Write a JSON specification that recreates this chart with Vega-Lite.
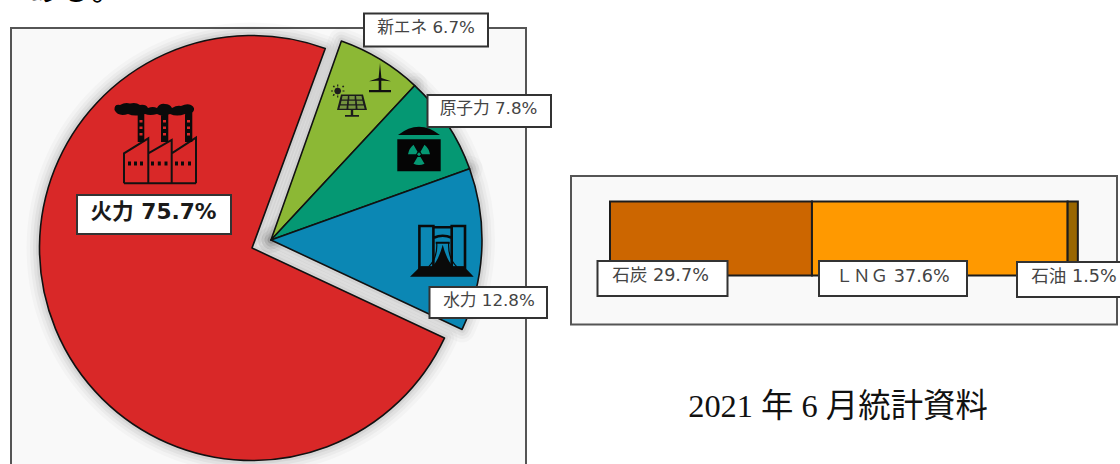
{
"$schema":"https://vega.github.io/schema/vega-lite/v6.json",
"width":1120,"height":464,"padding":0,"autosize":{"type":"none"},"background":"white",
"config":{"view":{"stroke":null},"axis":{"disable":true},"legend":{"disable":true}},
"datasets":{
"generation":[
{"source":"新エネ","share":6.7,"rank":1,"label":"新エネ 6.7%"},
{"source":"原子力","share":7.8,"rank":2,"label":"原子力 7.8%"},
{"source":"水力","share":12.8,"rank":3,"label":"水力 12.8%"},
{"source":"火力","share":75.7,"rank":4,"label":"火力 75.7%"}],
"thermal":[
{"source":"石炭","share":29.7,"rank":1,"label":"石炭 29.7%"},
{"source":"LNG","share":37.6,"rank":2,"label":"ＬＮＧ 37.6%"},
{"source":"石油","share":1.5,"rank":3,"label":"石油 1.5%"}],
"note":[{"note":"2021 年 6 月統計資料"}]
},
"resolve":{"scale":{"x":"independent"}},
"layer":[
{"data":{"name":"note"},"layer":[
 {"mark":{"type":"rect","fill":"#f9f9f9","stroke":"#555555","strokeWidth":2},
  "encoding":{"x":{"datum":11,"scale":{"domain":[0,1120],"range":[0,1120],"nice":false,"zero":false}},"x2":{"datum":526},"y":{"datum":28,"scale":{"domain":[0,464],"range":[0,464],"nice":false,"zero":false}},"y2":{"datum":500}}},
 {"mark":{"type":"rect","fill":"#f9f9f9","stroke":"#555555","strokeWidth":2},
  "encoding":{"x":{"datum":571},"x2":{"datum":1117},"y":{"datum":176},"y2":{"datum":324.5}}},
 {"data":{"name":"generation"},
  "transform":[{"stack":"share","groupby":[],"sort":[{"field":"rank","order":"ascending"}],"as":["v0","v1"]}],
  "encoding":{"theta":{"field":"v0","type":"quantitative","scale":{"domain":[0,102.8],"range":[0.34,6.623]}},"theta2":{"field":"v1"}},
  "layer":[
  {"transform":[{"filter":"datum.rank<4"}],"mark":{"type":"arc","outerRadius":211,"fill":"#000","fillOpacity":0,"stroke":"#000","strokeOpacity":0.022,"strokeWidth":26,"strokeJoin":"round"},"encoding":{"x":{"datum":271},"y":{"datum":240}}},
  {"transform":[{"filter":"datum.rank==4"}],"mark":{"type":"arc","outerRadius":212.5,"fill":"#000","fillOpacity":0,"stroke":"#000","strokeOpacity":0.022,"strokeWidth":26,"strokeJoin":"round"},"encoding":{"x":{"datum":252},"y":{"datum":248}}},
  {"transform":[{"filter":"datum.rank<4"}],"mark":{"type":"arc","outerRadius":211,"fill":"#000","fillOpacity":0,"stroke":"#000","strokeOpacity":0.03,"strokeWidth":19,"strokeJoin":"round"},"encoding":{"x":{"datum":271},"y":{"datum":240}}},
  {"transform":[{"filter":"datum.rank==4"}],"mark":{"type":"arc","outerRadius":212.5,"fill":"#000","fillOpacity":0,"stroke":"#000","strokeOpacity":0.03,"strokeWidth":19,"strokeJoin":"round"},"encoding":{"x":{"datum":252},"y":{"datum":248}}},
  {"transform":[{"filter":"datum.rank<4"}],"mark":{"type":"arc","outerRadius":211,"fill":"#000","fillOpacity":0,"stroke":"#000","strokeOpacity":0.04,"strokeWidth":13,"strokeJoin":"round"},"encoding":{"x":{"datum":271},"y":{"datum":240}}},
  {"transform":[{"filter":"datum.rank==4"}],"mark":{"type":"arc","outerRadius":212.5,"fill":"#000","fillOpacity":0,"stroke":"#000","strokeOpacity":0.04,"strokeWidth":13,"strokeJoin":"round"},"encoding":{"x":{"datum":252},"y":{"datum":248}}},
  {"transform":[{"filter":"datum.rank<4"}],"mark":{"type":"arc","outerRadius":211,"fill":"#000","fillOpacity":0,"stroke":"#000","strokeOpacity":0.05,"strokeWidth":7,"strokeJoin":"round"},"encoding":{"x":{"datum":271},"y":{"datum":240}}},
  {"transform":[{"filter":"datum.rank==4"}],"mark":{"type":"arc","outerRadius":212.5,"fill":"#000","fillOpacity":0,"stroke":"#000","strokeOpacity":0.05,"strokeWidth":7,"strokeJoin":"round"},"encoding":{"x":{"datum":252},"y":{"datum":248}}},
  {"transform":[{"filter":"datum.rank<4"}],"mark":{"type":"arc","outerRadius":211,"stroke":"#111111","strokeWidth":1.6,"strokeJoin":"round"},"encoding":{"x":{"datum":271},"y":{"datum":240},"color":{"field":"source","type":"nominal","legend":null,"scale":{"domain":["新エネ","原子力","水力","火力","石炭","LNG","石油"],"range":["#8cb835","#059873","#0b87b4","#d92828","#cc6600","#ff9900","#996600"]}}}},
  {"transform":[{"filter":"datum.rank==4"}],"mark":{"type":"arc","outerRadius":212.5,"stroke":"#111111","strokeWidth":1.6,"strokeJoin":"round"},"encoding":{"x":{"datum":252},"y":{"datum":248},"color":{"field":"source","type":"nominal","legend":null}}}
 ]},
 {"mark":{"type":"point","size":4,"filled":false,"stroke":"#111111","strokeWidth":2,"opacity":1,"shape":"M-36 23.3L-36 -6.7L-11.7 -21.7L-11.7 23.3M-11.7 -6.7L11.7 -20L11.7 23.3M11.7 -6.7L36 -22.3L36 23.3M-36 23.3L36 23.3"},
  "encoding":{"x":{"datum":160},"y":{"datum":160}}},
 {"mark":{"type":"point","size":4,"filled":true,"fill":"#0a0a0a","strokeWidth":0,"opacity":1,"shape":"M-45.5 -50Q-46 -56 -40 -55Q-35 -58 -30 -56.5Q-24 -58 -20 -55Q-14 -56 -12 -52Q-7 -54 -3 -52Q0 -57 5 -56Q10 -56 12 -52Q17 -55 21 -54Q27 -57 31 -55Q36 -52 33 -48Q30 -44 25 -46Q17 -43 10 -46Q3 -43 -3 -46Q-10 -44 -15 -46Q-25 -43 -32 -46Q-42 -43 -45.5 -50ZM-22.3 -47h6.6v29h-6.6ZM1 -47h7.3v29h-7.3ZM25 -47h7.3v29h-7.3ZM-32 1.5h3v4h-3ZM-26 1.5h3v4h-3ZM-20 1.5h3v4h-3ZM-9 1.5h3v4h-3ZM-2.2 1.5h3v4h-3ZM4.5 1.5h3v4h-3ZM15 1.5h3v4h-3ZM21 1.5h3v4h-3ZM28 1.5h3v4h-3Z"},
  "encoding":{"x":{"datum":160},"y":{"datum":160}}},
 {"mark":{"type":"point","size":4,"filled":true,"fill":"#d92828","strokeWidth":0,"opacity":1,"shape":"M-20.5 -40h3v2.6h-3ZM-20.5 -33.5h3v2.6h-3ZM-20.5 -27h3v2.6h-3ZM3 -40h3v2.6h-3ZM3 -33.5h3v2.6h-3ZM3 -27h3v2.6h-3ZM27 -40h3v2.6h-3ZM27 -33.5h3v2.6h-3ZM27 -27h3v2.6h-3Z"},
  "encoding":{"x":{"datum":160},"y":{"datum":160}}},
 {"mark":{"type":"point","size":4,"filled":true,"fill":"#111111","strokeWidth":0,"opacity":1,"shape":"M-1.3 0h2.6v11h-2.6ZM-11 11h22v2.2h-22ZM-1.5 0L0 -16L1.5 0ZM0 1.5L-11 2.2L0 -1.5ZM0 -1.5L11 2.2L0 1.5Z"},
  "encoding":{"x":{"datum":380},"y":{"datum":79}}},
 {"mark":{"type":"point","size":4,"filled":true,"fill":"#1c1c1c","strokeWidth":0,"opacity":1,"shape":"M-11 -8.5L11 -8.5L15 7L-15 7ZM-1.2 7h2.4v5h-2.4ZM-7 12h14v1.8h-14ZM-17.8 -12L-16.8 -14.5L-14.3 -15.5L-11.8 -14.5L-10.8 -12L-11.8 -9.5L-14.3 -8.5L-16.8 -9.5ZM-14.9 -18.5h1.2v2h-1.2ZM-14.9 -7.5h1.2v2h-1.2ZM-21 -12.6h2v1.2h-2ZM-9.5 -12.6h2v1.2h-2ZM-19.3 -17l1.4 -0.6l0.9 1.6l-1.4 0.6ZM-10 -8l1.4 -0.6l0.9 1.6l-1.4 0.6ZM-19.4 -7.6l0.9 -1.6l1.4 0.6l-0.9 1.6ZM-10 -16l0.9 -1.6l1.4 0.6l-0.9 1.6Z"},
  "encoding":{"x":{"datum":352},"y":{"datum":103}}},
 {"mark":{"type":"point","size":4,"filled":true,"fill":"#74933f","strokeWidth":0,"opacity":1,"shape":"M-9.5 -7h5.4l-0.3 3.4h-5.8ZM-2.7 -7h5.4v3.4h-5.4ZM4.1 -7h5.4l0.7 3.4h-5.8ZM-10.5 -2.2h5.8l-0.3 3.4h-6.3ZM-3.2 -2.2h6.4v3.4h-6.4ZM4.7 -2.2h5.8l0.8 3.4h-6.3ZM-11.8 2.5h6.6l-0.3 3.2h-7.1ZM-3.6 2.5h7.2v3.2h-7.2ZM5.2 2.5h6.6l0.8 3.2h-7.1Z"},
  "encoding":{"x":{"datum":352},"y":{"datum":103}}},
 {"mark":{"type":"point","size":4,"filled":true,"fill":"#050505","strokeWidth":0,"opacity":1,"shape":"M-21 -13.3Q0 -30 21 -13.3ZM-21.7 -9h43.4v32h-43.4Z"},
  "encoding":{"x":{"datum":419},"y":{"datum":148.3}}},
 {"mark":{"type":"point","size":4,"filled":true,"fill":"#059873","strokeWidth":0,"opacity":1,"shape":"M3 6L11 6Q10 0 5.5 -3.5L1.5 3.4ZM-3 6L-11 6Q-10 0 -5.5 -3.5L-1.5 3.4ZM-1.5 8.6L-5.5 15.5Q0 18 5.5 15.5L1.5 8.6ZM-2 6L0 4L2 6L0 8Z"},
  "encoding":{"x":{"datum":419},"y":{"datum":148.3}}},
 {"mark":{"type":"point","size":4,"filled":false,"stroke":"#0a0a0a","strokeWidth":2.6,"opacity":1,"shape":"M-22.3 16L-22.3 -25.7L-8.3 -25.7L-8.3 16ZM10 16L10 -25.7L23.3 -25.7L23.3 16ZM-8.3 -24.5L10 -24.5M-8 -14Q1 -18 10 -14"},
  "encoding":{"x":{"datum":441.7},"y":{"datum":251.7}}},
 {"mark":{"type":"point","size":4,"filled":false,"stroke":"#0a0a0a","strokeWidth":1.2,"opacity":1,"shape":"M-5 -9Q-4 6 -13 15M7 -9Q6 6 15 15"},
  "encoding":{"x":{"datum":441.7},"y":{"datum":251.7}}},
 {"mark":{"type":"point","size":4,"filled":true,"fill":"#0a0a0a","strokeWidth":0,"opacity":1,"shape":"M-31.7 25L-21 14.5L-9 14.5Q-3 8 1 -7Q5 8 11 14.5L22 14.5L32 25ZM-6 -10h14v2h-14Z"},
  "encoding":{"x":{"datum":441.7},"y":{"datum":251.7}}}
]},
{"data":{"name":"thermal"},
 "transform":[{"stack":"share","groupby":[],"sort":[{"field":"rank","order":"ascending"}],"as":["s0","s1"]}],
 "mark":{"type":"bar","stroke":"#1c1c1c","strokeWidth":2},
 "encoding":{"x":{"field":"s0","type":"quantitative","scale":{"domain":[-89.706,75],"range":[0,1120],"nice":false,"zero":false}},"x2":{"field":"s1"},"y":{"datum":201.5},"y2":{"datum":275.5},"color":{"field":"source","type":"nominal","legend":null}}},
{"data":{"name":"note"},"layer":[
 {"data":{"name":"generation"},"transform":[{"filter":"datum.rank==1"}],"layer":[
  {"mark":{"type":"rect","fill":"white","stroke":"#333333","strokeWidth":2},"encoding":{"x":{"datum":364,"scale":{"domain":[0,1120],"range":[0,1120],"nice":false,"zero":false}},"x2":{"datum":488},"y":{"datum":13.5,"scale":{"domain":[0,464],"range":[0,464],"nice":false,"zero":false}},"y2":{"datum":46.5}}},
  {"mark":{"type":"text","font":"DejaVu Sans, Noto Sans CJK JP","fontSize":16.7,"fill":"#444444","align":"center","baseline":"middle"},"encoding":{"x":{"datum":426},"y":{"datum":28},"text":{"field":"label"}}}]},
 {"data":{"name":"generation"},"transform":[{"filter":"datum.rank==2"}],"layer":[
  {"mark":{"type":"rect","fill":"white","stroke":"#333333","strokeWidth":2},"encoding":{"x":{"datum":427.5},"x2":{"datum":551},"y":{"datum":95},"y2":{"datum":127}}},
  {"mark":{"type":"text","font":"DejaVu Sans, Noto Sans CJK JP","fontSize":16.7,"fill":"#444444","align":"center","baseline":"middle"},"encoding":{"x":{"datum":488.5},"y":{"datum":109},"text":{"field":"label"}}}]},
 {"data":{"name":"generation"},"transform":[{"filter":"datum.rank==3"}],"layer":[
  {"mark":{"type":"rect","fill":"white","stroke":"#333333","strokeWidth":2},"encoding":{"x":{"datum":429.5},"x2":{"datum":547},"y":{"datum":287},"y2":{"datum":318}}},
  {"mark":{"type":"text","font":"DejaVu Sans, Noto Sans CJK JP","fontSize":16.7,"fill":"#444444","align":"center","baseline":"middle"},"encoding":{"x":{"datum":489},"y":{"datum":301},"text":{"field":"label"}}}]},
 {"data":{"name":"generation"},"transform":[{"filter":"datum.rank==4"}],"layer":[
  {"mark":{"type":"rect","fill":"white","stroke":"#333333","strokeWidth":2},"encoding":{"x":{"datum":77},"x2":{"datum":231},"y":{"datum":195},"y2":{"datum":234}}},
  {"mark":{"type":"text","font":"DejaVu Sans, Noto Sans CJK JP","fontSize":21.7,"fontWeight":"bold","fill":"#1a1a1a","align":"center","baseline":"middle"},"encoding":{"x":{"datum":153.5},"y":{"datum":212},"text":{"field":"label"}}}]},
 {"data":{"name":"thermal"},"transform":[{"filter":"datum.rank==1"}],"layer":[
  {"mark":{"type":"rect","fill":"white","stroke":"#333333","strokeWidth":2},"encoding":{"x":{"datum":597.5},"x2":{"datum":727.5},"y":{"datum":261},"y2":{"datum":296}}},
  {"mark":{"type":"text","font":"DejaVu Sans, Noto Sans CJK JP","fontSize":17.6,"fill":"#444444","align":"center","baseline":"middle"},"encoding":{"x":{"datum":660.5},"y":{"datum":276},"text":{"field":"label"}}}]},
 {"data":{"name":"thermal"},"transform":[{"filter":"datum.rank==2"}],"layer":[
  {"mark":{"type":"rect","fill":"white","stroke":"#333333","strokeWidth":2},"encoding":{"x":{"datum":819},"x2":{"datum":967},"y":{"datum":261},"y2":{"datum":296}}},
  {"mark":{"type":"text","font":"DejaVu Sans, Noto Sans CJK JP","fontSize":17.6,"fill":"#444444","align":"center","baseline":"middle"},"encoding":{"x":{"datum":892.5},"y":{"datum":277},"text":{"field":"label"}}}]},
 {"data":{"name":"thermal"},"transform":[{"filter":"datum.rank==3"}],"layer":[
  {"mark":{"type":"rect","fill":"white","stroke":"#333333","strokeWidth":2},"encoding":{"x":{"datum":1017},"x2":{"datum":1130},"y":{"datum":262},"y2":{"datum":297}}},
  {"mark":{"type":"text","font":"DejaVu Sans, Noto Sans CJK JP","fontSize":17.6,"fill":"#444444","align":"center","baseline":"middle"},"encoding":{"x":{"datum":1074},"y":{"datum":277},"text":{"field":"label"}}}]},
 {"mark":{"type":"text","font":"Liberation Serif, Noto Sans CJK JP","fontSize":32.4,"fill":"#111111","align":"center","baseline":"middle"},"encoding":{"x":{"datum":838},"y":{"datum":406.5},"text":{"field":"note"}}},
 {"mark":{"type":"text","font":"Noto Sans CJK JP","fontSize":32,"fill":"#000000","align":"left","baseline":"alphabetic","text":"ある。"},"encoding":{"x":{"datum":27},"y":{"datum":0}}}
]}
]}
